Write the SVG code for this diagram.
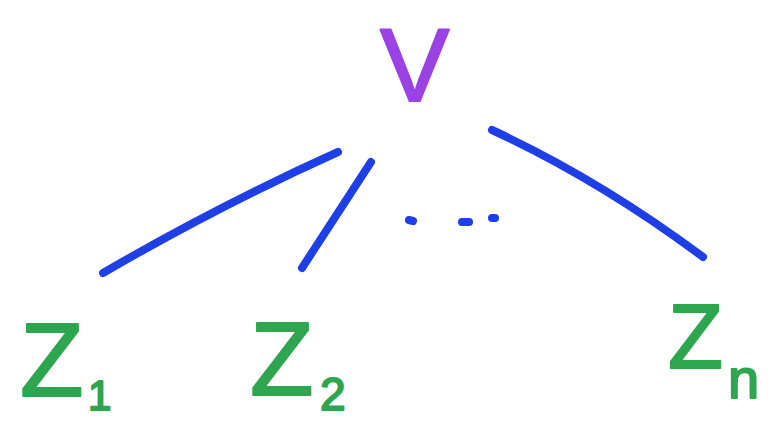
<svg xmlns="http://www.w3.org/2000/svg" width="771" height="427" viewBox="0 0 771 427">
<style>
.edge{fill:none;stroke:#1f3fe6;stroke-width:8;stroke-linecap:round;stroke-linejoin:round}
.dot{fill:none;stroke:#1f3fe6;stroke-width:8;stroke-linecap:round}
.g{fill:#2ea64f;stroke:#2ea64f;stroke-width:2;stroke-linejoin:round;font-family:"Liberation Sans",Arial,sans-serif}
.p{fill:#9a42e4;stroke:#9a42e4;stroke-width:2;stroke-linejoin:round;font-family:"Liberation Sans",Arial,sans-serif}
</style>
<rect width="771" height="427" fill="#ffffff"/>
<g id="connectors">
<path class="edge" d="M103,273 Q220,205 338,152"/>
<path class="edge" d="M302,268 L371,162"/>
<path class="edge" d="M492,130 Q600,180 703,257"/>
<path class="dot" d="M409,220 L413,221"/>
<path class="dot" d="M462,222 L469,222"/>
<path class="dot" d="M492,218 L495,218"/>
</g>
<g id="node-v"><text class="p" x="380" y="101" font-size="104">V</text></g>
<g id="node-z1"><text class="g" x="20" y="396" font-size="104">Z<tspan x="88" y="410" font-size="42">1</tspan></text></g>
<g id="node-z2"><text class="g" x="250" y="395" font-size="104">Z<tspan x="320" y="410" font-size="46">2</tspan></text></g>
<g id="node-zn"><text class="g" x="668" y="368" font-size="90">Z<tspan x="728" y="398" font-size="56">n</tspan></text></g>
</svg>
